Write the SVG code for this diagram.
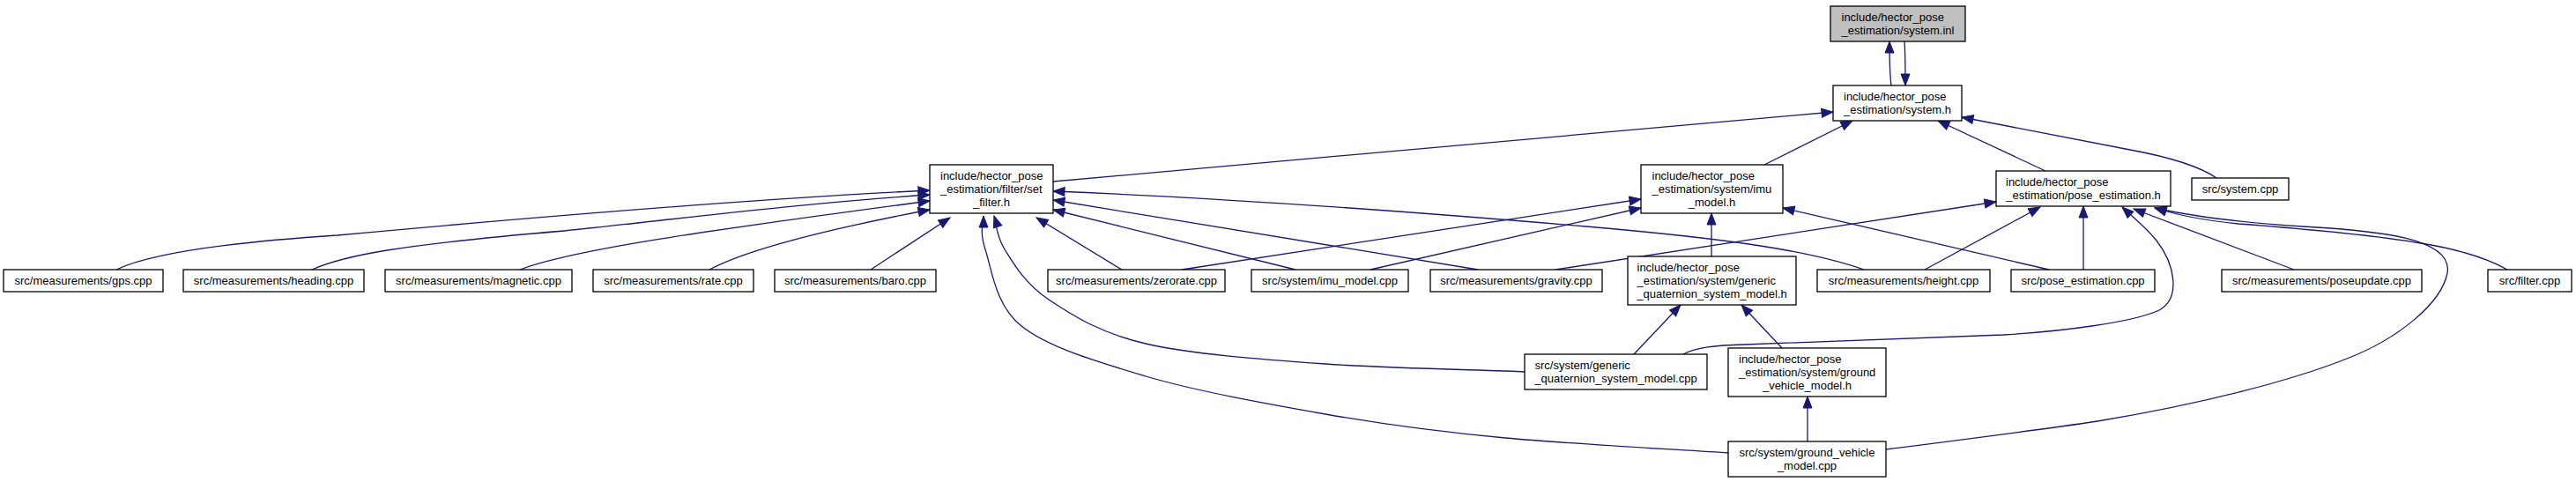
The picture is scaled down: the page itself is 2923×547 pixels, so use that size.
<svg xmlns="http://www.w3.org/2000/svg" width="2923" height="547" viewBox="0 0 2923 547">
<style>
.n rect{fill:#ffffff;stroke:#000000;stroke-width:1.3}
.n.root rect{fill:#bfbfbf}
.n text{font-family:"Liberation Sans",Arial,sans-serif;font-size:13px;fill:#000000}
.m{text-anchor:middle}
#edges path{fill:none;stroke:#191970;stroke-width:1.3;marker-end:url(#ah)}
</style>
<defs>
<marker id="ah" markerUnits="userSpaceOnUse" markerWidth="14" markerHeight="11" refX="13" refY="5" orient="auto" style="overflow:visible">
<path d="M0,0 L13,5 L0,10 Z" fill="#191970" stroke="#191970" stroke-width="1"/>
</marker>
</defs>
<rect width="2923" height="547" fill="#ffffff"/>
<g id="edges">
<path d="M2146,97 C2144,82 2144,70 2144,47"/>
<path d="M2161,47 C2162,60 2162,75 2162,97"/>
<path d="M1195,206 L2080,127"/>
<path d="M2002,187 L2102,137"/>
<path d="M2321,194 L2199,137"/>
<path d="M2515,202 C2495,188 2460,178 2417,170 L2226,133"/>
<path d="M132,306 C170,288 260,275 383,267 C600,247 850,226 1055,216"/>
<path d="M354,306 C390,290 450,278 640,262 C800,245 920,230 1055,221"/>
<path d="M590,306 C650,283 800,262 1055,228"/>
<path d="M805,306 C850,282 950,258 1055,238"/>
<path d="M988,306 L1078,247"/>
<path d="M1273,306 L1176,247"/>
<path d="M1470,306 L1195,238"/>
<path d="M1677,306 L1195,227"/>
<path d="M2115,306 C2050,283 1950,270 1800,257 C1600,240 1400,225 1195,217"/>
<path d="M1730,422 C1692,420 1576,418 1504,413 C1432,408 1352,402 1300,390 C1248,378 1217,358 1190,340 C1163,322 1150,299 1140,283 C1130,267 1130,251 1128,245"/>
<path d="M1961,514 C1919,511 1784,504 1708,497 C1632,490 1572,482 1504,470 C1436,458 1358,444 1300,427 C1243,410 1189,394 1159,370 C1129,346 1125,304 1118,283 C1111,262 1116,251 1116,245"/>
<path d="M1341,306 L1862,226"/>
<path d="M1555,306 L1862,236"/>
<path d="M2325,306 L2023,236"/>
<path d="M1942,291 L1942,242"/>
<path d="M1765,306 L2265,229"/>
<path d="M2184,306 L2315,235"/>
<path d="M2364,306 L2364,234"/>
<path d="M1910,402 C1925,394 1945,392 1980,391 L2273,380 C2340,376 2420,366 2450,352 C2475,338 2468,300 2447,273 C2435,258 2420,246 2408,235"/>
<path d="M2603,306 L2421,237"/>
<path d="M2845,306 C2820,292 2790,283 2747,276 C2700,268 2620,260 2540,254 C2500,250 2470,244 2445,236"/>
<path d="M2140,510 C2250,496 2320,487 2380,478 C2500,458 2600,432 2663,407 C2720,385 2770,345 2777,310 C2784,270 2700,262 2613,257 C2550,253 2490,246 2445,236"/>
<path d="M1854,402 L1907,346"/>
<path d="M2022,395 L1976,346"/>
<path d="M2051,501 L2051,450"/>
</g>
<g id="node-system-inl" class="n root"><rect x="2077" y="7" width="153" height="40"/><text x="2089.5" y="24">include/hector_pose</text><text class="m" x="2153.5" y="39">_estimation/system.inl</text></g>
<g id="node-system-h" class="n"><rect x="2080" y="97" width="146" height="40"/><text x="2092" y="114">include/hector_pose</text><text class="m" x="2153" y="129">_estimation/system.h</text></g>
<g id="node-set-filter-h" class="n"><rect x="1055" y="187" width="140" height="55"/><text x="1067" y="204">include/hector_pose</text><text x="1067" y="219">_estimation/filter/set</text><text class="m" x="1125" y="234">_filter.h</text></g>
<g id="node-imu-model-h" class="n"><rect x="1862" y="187" width="161" height="55"/><text x="1874.5" y="204">include/hector_pose</text><text x="1874.5" y="219">_estimation/system/imu</text><text class="m" x="1942.5" y="234">_model.h</text></g>
<g id="node-pose-estimation-h" class="n"><rect x="2265" y="194" width="198" height="40"/><text x="2276" y="211">include/hector_pose</text><text class="m" x="2364" y="226">_estimation/pose_estimation.h</text></g>
<g id="node-system-cpp" class="n"><rect x="2487" y="202" width="110" height="25"/><text class="m" x="2542" y="219">src/system.cpp</text></g>
<g id="node-gps-cpp" class="n"><rect x="4" y="306" width="181" height="25"/><text class="m" x="94.5" y="323">src/measurements/gps.cpp</text></g>
<g id="node-heading-cpp" class="n"><rect x="208" y="306" width="205" height="25"/><text class="m" x="310.5" y="323">src/measurements/heading.cpp</text></g>
<g id="node-magnetic-cpp" class="n"><rect x="437" y="306" width="212" height="25"/><text class="m" x="543" y="323">src/measurements/magnetic.cpp</text></g>
<g id="node-rate-cpp" class="n"><rect x="673" y="306" width="182" height="25"/><text class="m" x="764" y="323">src/measurements/rate.cpp</text></g>
<g id="node-baro-cpp" class="n"><rect x="879" y="306" width="183" height="25"/><text class="m" x="970.5" y="323">src/measurements/baro.cpp</text></g>
<g id="node-zerorate-cpp" class="n"><rect x="1189" y="306" width="201" height="25"/><text class="m" x="1289.5" y="323">src/measurements/zerorate.cpp</text></g>
<g id="node-imu-model-cpp" class="n"><rect x="1420" y="306" width="178" height="25"/><text class="m" x="1509" y="323">src/system/imu_model.cpp</text></g>
<g id="node-gravity-cpp" class="n"><rect x="1623" y="306" width="195" height="25"/><text class="m" x="1720.5" y="323">src/measurements/gravity.cpp</text></g>
<g id="node-height-cpp" class="n"><rect x="2062" y="306" width="196" height="25"/><text class="m" x="2160" y="323">src/measurements/height.cpp</text></g>
<g id="node-pose-estimation-cpp" class="n"><rect x="2282" y="306" width="163" height="25"/><text class="m" x="2363.5" y="323">src/pose_estimation.cpp</text></g>
<g id="node-poseupdate-cpp" class="n"><rect x="2521" y="306" width="227" height="25"/><text class="m" x="2634.5" y="323">src/measurements/poseupdate.cpp</text></g>
<g id="node-filter-cpp" class="n"><rect x="2823" y="306" width="95" height="25"/><text class="m" x="2870.5" y="323">src/filter.cpp</text></g>
<g id="node-generic-h" class="n"><rect x="1847" y="291" width="191" height="55"/><text x="1857.5" y="308">include/hector_pose</text><text x="1857.5" y="323">_estimation/system/generic</text><text class="m" x="1942.5" y="338">_quaternion_system_model.h</text></g>
<g id="node-generic-cpp" class="n"><rect x="1730" y="402" width="207" height="40"/><text x="1741.5" y="419">src/system/generic</text><text class="m" x="1833.5" y="434">_quaternion_system_model.cpp</text></g>
<g id="node-ground-vehicle-h" class="n"><rect x="1961" y="395" width="179" height="55"/><text x="1973" y="412">include/hector_pose</text><text x="1973" y="427">_estimation/system/ground</text><text class="m" x="2050.5" y="442">_vehicle_model.h</text></g>
<g id="node-ground-vehicle-cpp" class="n"><rect x="1961" y="501" width="179" height="40"/><text x="1973.5" y="518">src/system/ground_vehicle</text><text class="m" x="2050.5" y="533">_model.cpp</text></g>
</svg>
